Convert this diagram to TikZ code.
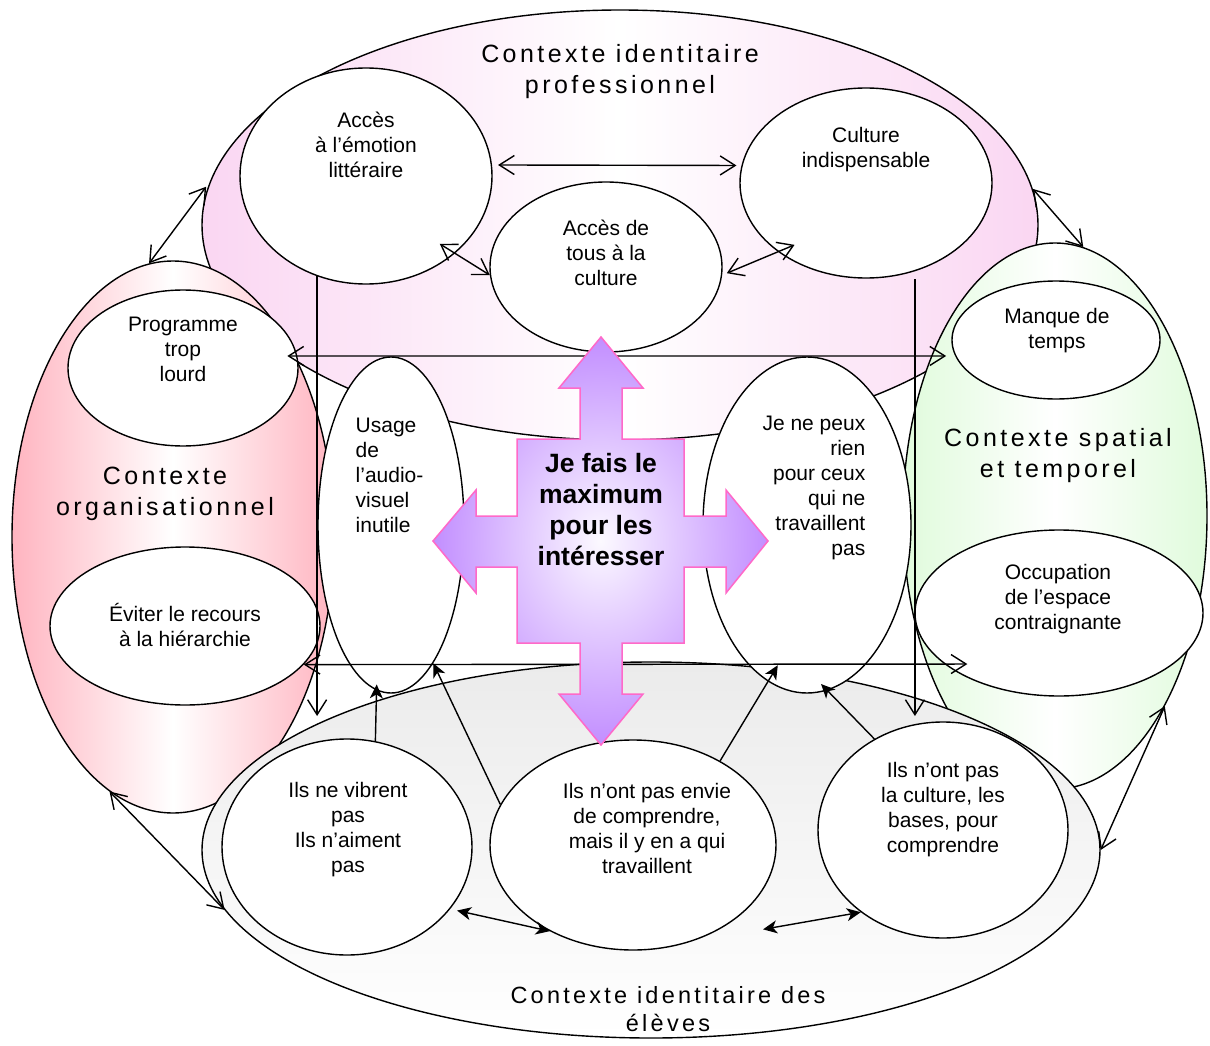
\documentclass[tikz,border=0pt]{standalone}
\usepackage{fontspec}
\setmainfont{Liberation Sans}
\newfontfamily\ctxfont[LetterSpace=13.8]{Liberation Sans}
\usetikzlibrary{arrows.meta}
\usetikzlibrary{shapes.geometric}

\definecolor{profpink}{RGB}{250,214,242}
\definecolor{orgared}{RGB}{255,180,192}
\definecolor{spatgreen}{RGB}{224,251,220}
\definecolor{elevegray}{RGB}{235,235,235}
\definecolor{crossviolet}{RGB}{194,142,255}
\definecolor{crossedge}{RGB}{255,105,200}

\begin{document}
\begin{tikzpicture}[
    x=1pt, y=-1pt,
    line width=1.4pt,
    >={Straight Barb[length=15pt,width=19pt]},
    ctxshape/.style={ellipse, draw, inner sep=0pt},
    bubble/.style={ellipse, draw, fill=white, inner sep=0pt},
    txt/.style={font=\fontsize{21}{25}\selectfont, align=center, inner sep=0pt},
    ctxtxt/.style={font=\ctxfont\fontsize{25}{31}\selectfont, align=center, inner sep=0pt},
    fillhead/.style={-{Stealth[length=14pt,width=13pt,inset=4pt]}},
    fillboth/.style={{Stealth[length=14pt,width=13pt,inset=4pt]}-{Stealth[length=14pt,width=13pt,inset=4pt]}}
]
    \useasboundingbox (0,0) rectangle (1210,1046);

    % (a) the four contexts
    \node[ctxshape, left color=profpink, right color=profpink, middle color=white,
          minimum width=836pt, minimum height=430pt] (ctx_prof) at (620,225) {};
    \node[ctxshape, left color=orgared, right color=orgared, middle color=white,
          minimum width=322pt, minimum height=552pt] (ctx_orga) at (173,537) {};
    \node[ctxshape, left color=spatgreen, right color=spatgreen, middle color=white,
          minimum width=304pt, minimum height=546pt] (ctx_spat) at (1055,516) {};
    \node[ctxshape, top color=elevegray, bottom color=white,
          minimum width=898pt, minimum height=376pt] (ctx_eleves) at (651,850) {};

    \node[ctxtxt] (lbl_prof) at (620,72) {Contexte identitaire\\professionnel};
    \node[ctxtxt] (lbl_orga) at (165,494) {Contexte\\organisationnel};
    \node[ctxtxt] (lbl_spat) at (1058,456) {Contexte spatial\\et temporel};
    \node[ctxtxt, font=\ctxfont\fontsize{23.5}{28}\selectfont] (lbl_eleves) at (668,1009) {Contexte identitaire des\\élèves};

    % (b) professional identity
    \node[bubble, minimum width=252pt, minimum height=216pt] (acces_emotion) at (366,176) {};
    \node[txt] at (366,145) {Accès\\à l’émotion\\littéraire};
    \node[bubble, minimum width=252pt, minimum height=190pt] (culture_indisp) at (866,183) {};
    \node[txt] at (866,150) {Culture\\indispensable};
    \node[bubble, minimum width=232pt, minimum height=170pt] (acces_tous) at (606,267) {};
    \node[txt] at (606,253) {Accès de\\tous à la\\culture};

    % (c) organisation
    \node[bubble, minimum width=230pt, minimum height=156pt] (programme) at (183,368) {};
    \node[txt] at (183,349) {Programme\\trop\\lourd};
    \node[bubble, minimum width=270pt, minimum height=158pt] (recours) at (185,626) {};
    \node[txt] at (185,625) {Éviter le recours\\à la hiérarchie};

    % (d) space and time
    \node[bubble, minimum width=208pt, minimum height=118pt] (manque_temps) at (1056,340) {};
    \node[txt] at (1057,331) {Manque de\\temps};
    \node[bubble, minimum width=288pt, minimum height=166pt] (occupation) at (1059,613) {};
    \node[txt] at (1058,599) {Occupation\\de l’espace\\contraignante};

    % (e) middle row
    \node[bubble, minimum width=146pt, minimum height=336pt] (audiovisuel) at (391,525) {};
    \node[txt, align=left, anchor=west] at (355,475) {Usage\\de\\l’audio-\\visuel\\inutile};
    \node[bubble, minimum width=208pt, minimum height=336pt] (rien_pour) at (807,525) {};
    \node[txt, align=right, anchor=east] at (866,488) {Je ne peux\\rien\\pour ceux\\qui ne\\travaillent\\pas};

    % (f) pupils
    \node[bubble, minimum width=250pt, minimum height=216pt] (vibrent) at (347,847) {};
    \node[txt] at (348,830) {Ils ne vibrent\\pas\\Ils n’aiment\\pas};
    \node[bubble, minimum width=286pt, minimum height=210pt] (envie) at (633,845) {};
    \node[txt] at (647,828) {Ils n’ont pas envie\\de comprendre,\\mais il y en a qui\\travaillent};
    \node[bubble, minimum width=250pt, minimum height=216pt] (bases) at (943,830) {};
    \node[txt] at (943,810) {Ils n’ont pas\\la culture, les\\bases, pour\\comprendre};

    \coordinate (drop_a) at (318,716);
    \coordinate (drop_b) at (914,716);

    % connectors
    \draw[<->, shorten <=6pt, shorten >=5pt] (acces_emotion.5) -- (culture_indisp.172);
    \draw[<->, shorten <=-18pt] (acces_emotion.319) -- (acces_tous.184);
    \draw[<->, shorten <=5pt, shorten >=-18pt] (acces_tous.356) -- (culture_indisp.218);
    \draw[<->, shorten >=6pt] (ctx_orga.95) -- (ctx_prof.174);
    \draw[<->] (ctx_prof.5) -- (ctx_spat.84);
    \draw[<->, shorten <=-10pt, shorten >=9pt] (programme.6) -- (manque_temps.189);
    \draw[<->, shorten >=-23pt] (recours.342) -- (occupation.204);
    \draw[->] (acces_emotion.244) -- (acces_emotion.244 |- drop_a);
    \draw[->, shorten <=8pt] (culture_indisp.299) -- (culture_indisp.299 |- drop_b);
    \draw[<->] (ctx_orga.256) -- (ctx_eleves.188);
    \draw[<->] (ctx_spat.300) -- (ctx_eleves.0);

    \draw[fillhead, shorten >=-6pt] (vibrent.75) -- (audiovisuel.265);
    \draw[fillhead] (envie.163) -- (audiovisuel.287);
    \draw[fillhead, shorten >=-19pt] (envie.44) -- (rien_pour.256);
    \draw[fillhead, shorten >=-9pt] (bases.127) -- (rien_pour.277);
    \draw[fillboth, shorten <=7pt] (vibrent.329) -- (envie.226);
    \draw[fillboth, shorten <=75pt] (envie.300) -- (bases.225);

    % (g) central cross
    \draw[draw=crossedge, line width=1.5pt, inner color=white!95!crossviolet, outer color=crossviolet]
        (601,337) -- (643,388) -- (622,388) -- (622,439) -- (684,439) -- (684,516)
        -- (726,516) -- (726,490) -- (768,541) -- (726,593) -- (726,567) -- (684,567)
        -- (684,643) -- (622,643) -- (622,694) -- (643,694) -- (601,745) -- (559,694)
        -- (580,694) -- (580,643) -- (517,643) -- (517,567) -- (476,567) -- (476,593)
        -- (433,541) -- (476,490) -- (476,516) -- (517,516) -- (517,439) -- (580,439)
        -- (580,388) -- (559,388) -- cycle;
    \node[font=\bfseries\fontsize{26.5}{31}\selectfont, align=center, inner sep=0pt] (maximum) at (601,510)
        {Je fais le\\maximum\\pour les\\intéresser};
\end{tikzpicture}
\end{document}
